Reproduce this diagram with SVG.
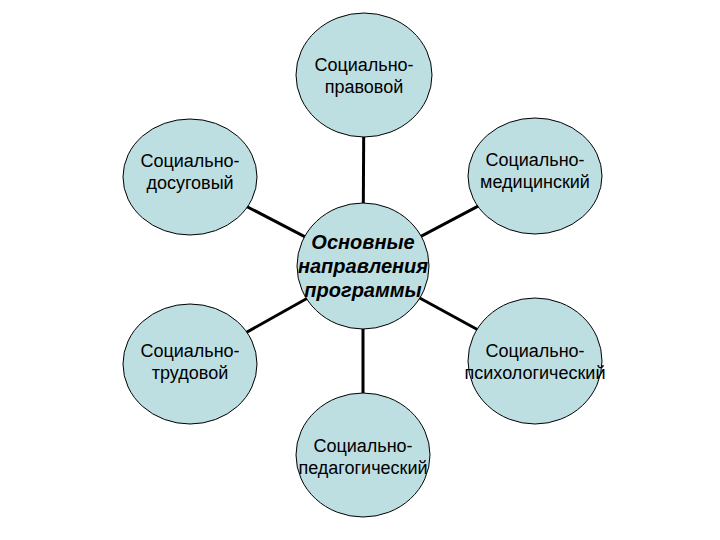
<svg xmlns="http://www.w3.org/2000/svg" width="720" height="540" viewBox="0 0 720 540">
<style>
.node ellipse{fill:#BEDFE2;stroke:#000;stroke-width:1}
.lbl{font-family:"Liberation Sans",Arial,sans-serif;font-size:18px;fill:#000;text-anchor:middle}
.main{font-family:"Liberation Sans",Arial,sans-serif;font-size:20px;font-weight:bold;font-style:italic;fill:#000;text-anchor:middle}
#connectors line{stroke:#000;stroke-width:3}
</style>
<rect width="720" height="540" fill="#fff"/>
<g id="connectors">
<line x1="363" y1="267" x2="364" y2="75"/>
<line x1="363" y1="267" x2="190" y2="177"/>
<line x1="363" y1="267" x2="535" y2="176"/>
<line x1="363" y1="267" x2="190" y2="364"/>
<line x1="363" y1="267" x2="535" y2="361"/>
<line x1="363" y1="267" x2="363" y2="455"/>
</g>
<g id="n-pravovoy" class="node">
<ellipse cx="364" cy="75" rx="68" ry="62"/>
<text class="lbl" x="364" y="71">Социально-</text>
<text class="lbl" x="364" y="93">правовой</text>
</g>
<g id="n-dosugovy" class="node">
<ellipse cx="190" cy="177" rx="67" ry="58"/>
<text class="lbl" x="190" y="167">Социально-</text>
<text class="lbl" x="190" y="189">досуговый</text>
</g>
<g id="n-medicinsky" class="node">
<ellipse cx="535" cy="176" rx="67" ry="58"/>
<text class="lbl" x="535" y="166">Социально-</text>
<text class="lbl" x="535" y="188">медицинский</text>
</g>
<g id="n-trudovoy" class="node">
<ellipse cx="190" cy="364" rx="67" ry="60"/>
<text class="lbl" x="190" y="357">Социально-</text>
<text class="lbl" x="190" y="379">трудовой</text>
</g>
<g id="n-psihologichesky" class="node">
<ellipse cx="535" cy="361" rx="67" ry="63"/>
<text class="lbl" x="535" y="357">Социально-</text>
<text class="lbl" x="535" y="379">психологический</text>
</g>
<g id="n-pedagogichesky" class="node">
<ellipse cx="363" cy="455" rx="67" ry="62"/>
<text class="lbl" x="363" y="452">Социально-</text>
<text class="lbl" x="363" y="474">педагогический</text>
</g>
<g id="n-center" class="node">
<ellipse cx="363" cy="266" rx="66" ry="63"/>
<text class="main" x="363" y="249">Основные</text>
<text class="main" x="363" y="273">направления</text>
<text class="main" x="363" y="297">программы</text>
</g>
</svg>
